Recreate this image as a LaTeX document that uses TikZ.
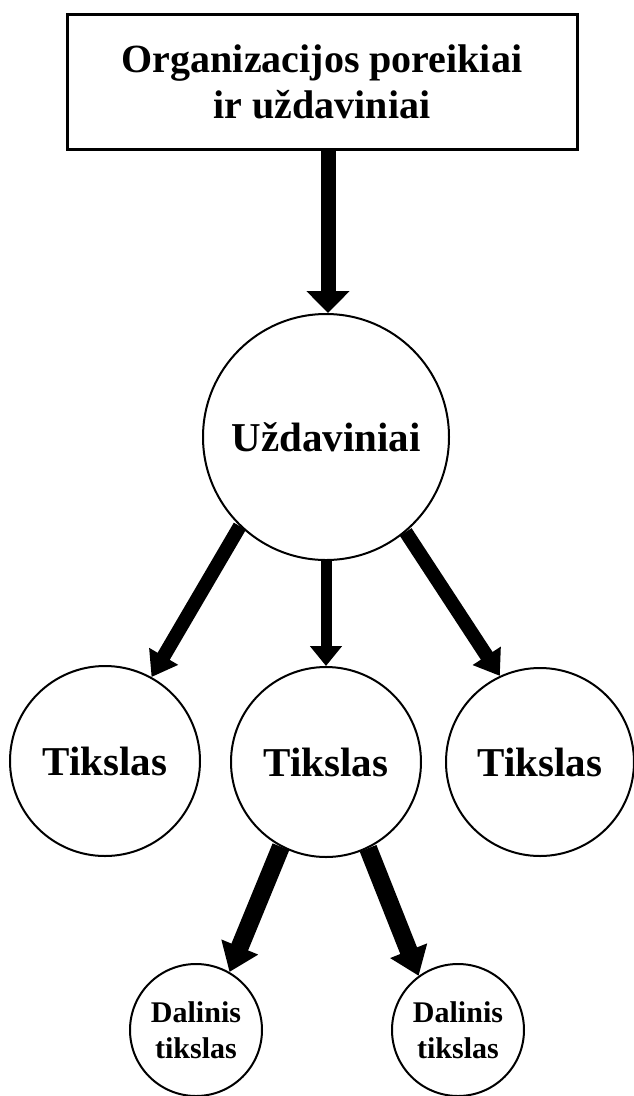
\documentclass[tikz,border=0pt]{standalone}
\usepackage{fontspec}
\setmainfont{Liberation Serif}
\usetikzlibrary{arrows.meta}

\begin{document}
\begin{tikzpicture}[x=1pt,y=-1pt,
  box/.style={draw,line width=3pt,minimum width=510pt,minimum height=135pt,align=center,
    font=\fontsize{40}{46}\selectfont\bfseries},
  goal/.style={draw,circle,line width=2pt,inner sep=0pt,minimum size=#1,
    font=\fontsize{41}{46}\selectfont\bfseries},
  subgoal/.style={draw,circle,line width=2pt,inner sep=0pt,minimum size=132pt,align=center,
    font=\fontsize{30}{36}\selectfont\bfseries},
  pointer/.style args={#1/#2/#3}{line width=#1,-{Triangle[width=#2,length=#3]}}]
\useasboundingbox (0,0) rectangle (634,1096);
\node[box] (Organizacijos_poreikiai) at (322,81.5) {Organizacijos poreikiai\\ir uždaviniai};
\node[goal=246pt] (Uzdaviniai) at (326,437) {Uždaviniai};
\node[goal=190pt] (Tikslas_1) at (105,761) {Tikslas};
\node[goal=190pt] (Tikslas_2) at (326,762) {Tikslas};
\node[goal=188pt] (Tikslas_3) at (540,762) {Tikslas};
\node[subgoal] (Dalinis_tikslas_1) at (196,1030) {Dalinis\\tikslas};
\node[subgoal] (Dalinis_tikslas_2) at (458,1030) {Dalinis\\tikslas};

\draw[pointer=15pt/42pt/22pt] (Organizacijos_poreikiai.south -| 328,0) -- (Uzdaviniai.north -| 328,0);
\draw[pointer=14pt/32pt/24pt] (Uzdaviniai.226) -- (Tikslas_1.61);
\draw[pointer=11pt/31pt/20pt] (Uzdaviniai.south) -- (Tikslas_2.north);
\draw[pointer=14pt/32pt/24pt] (Uzdaviniai.310) -- (Tikslas_3.115);
\draw[pointer=18pt/38pt/27pt] (Tikslas_2.242) -- (Dalinis_tikslas_1.60);
\draw[pointer=18pt/38pt/27pt] (Tikslas_2.296) -- (Dalinis_tikslas_2.126);
\end{tikzpicture}
\end{document}
